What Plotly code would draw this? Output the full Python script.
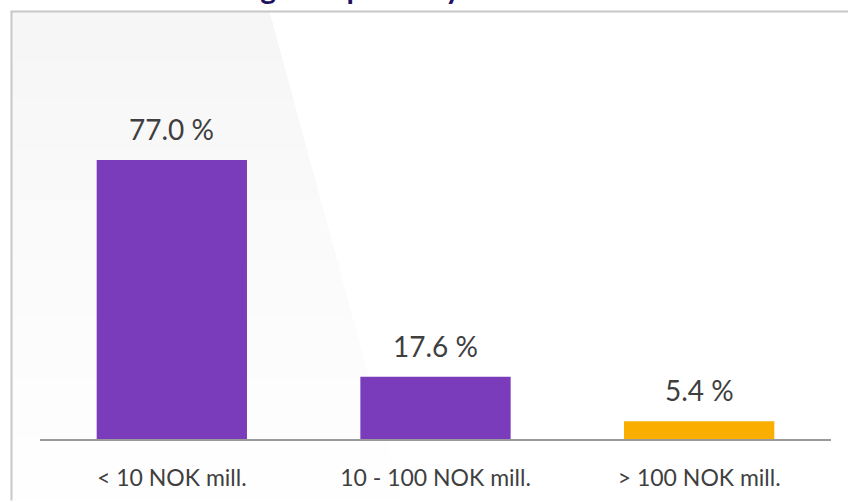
import plotly.graph_objects as go

categories = ["< 10 NOK mill.", "10 - 100 NOK mill.", "> 100 NOK mill."]
values = [77.0, 17.6, 5.4]
bar_colors = ["#7A3CBB", "#7A3CBB", "#F9AE00"]
title_text = "Average shop size by turnover"

W, H = 850, 503
ML, MR, MT, MB = 40, 19, 149, 60
PW, PH = W - ML - MR, H - MT - MB

def px(x):
    return (x - ML) / PW

def py(y):
    return (H - MB - y) / PH

fig = go.Figure()
fig.add_trace(go.Bar(
    x=categories, y=values, marker=dict(color=bar_colors, line=dict(width=0)),
    hoverinfo="skip", showlegend=False,
))

annotations = []
for c, v in zip(categories, values):
    annotations.append(dict(
        x=c, y=v, xref="x", yref="y", text=f"{v:.1f} %", showarrow=False,
        yanchor="bottom", yshift=12,
        font=dict(family="Lato", size=28, color="#3F3F3F"),
    ))
annotations.append(dict(
    x=px(180), y=py(6), xref="paper", yref="paper", xanchor="left", yanchor="bottom",
    text=f"<b>{title_text}</b>", showarrow=False,
    font=dict(family="Lato", size=30, color="#1C1260"),
))

shapes = []
# soft light-grey sheen at left (many faint layers for a smooth fade)
for yb in [503, 440, 380, 320, 260, 200, 150, 100, 60]:
    xb = 270 + (yb - 10) * 0.27
    shapes.append(dict(
        type="path", xref="paper", yref="paper", layer="below",
        path=f"M {px(11)} {py(10)} L {px(270)} {py(10)} L {px(xb)} {py(yb)} L {px(11)} {py(yb)} Z",
        fillcolor="rgba(0,0,0,0.0045)", line=dict(width=0),
    ))
# frame (left and top lines)
shapes.append(dict(
    type="line", xref="paper", yref="paper", layer="above",
    x0=px(11.5), x1=px(11.5), y0=py(503), y1=py(10),
    line=dict(color="#C8C8C8", width=2),
))
shapes.append(dict(
    type="line", xref="paper", yref="paper", layer="above",
    x0=px(10.5), x1=px(848), y0=py(10.5), y1=py(10.5),
    line=dict(color="#C8C8C8", width=2),
))
# baseline axis
shapes.append(dict(
    type="line", xref="paper", yref="paper", layer="above",
    x0=0, x1=1, y0=py(442), y1=py(442),
    line=dict(color="#9A9A9A", width=2),
))

fig.update_layout(
    width=W, height=H,
    margin=dict(l=ML, r=MR, t=MT, b=MB, pad=0),
    paper_bgcolor="white", plot_bgcolor="rgba(0,0,0,0)",
    bargap=0.43,
    xaxis=dict(showline=False, showgrid=False, zeroline=False, ticks="",
               tickfont=dict(family="Lato", size=23, color="#3F3F3F"),
               ticklabelstandoff=21, fixedrange=True),
    yaxis=dict(range=[0, 80], visible=False, showgrid=False, zeroline=False, fixedrange=True),
    annotations=annotations, shapes=shapes,
    font=dict(family="Lato"),
)

fig.write_html("out.html", config={"displayModeBar": False})
